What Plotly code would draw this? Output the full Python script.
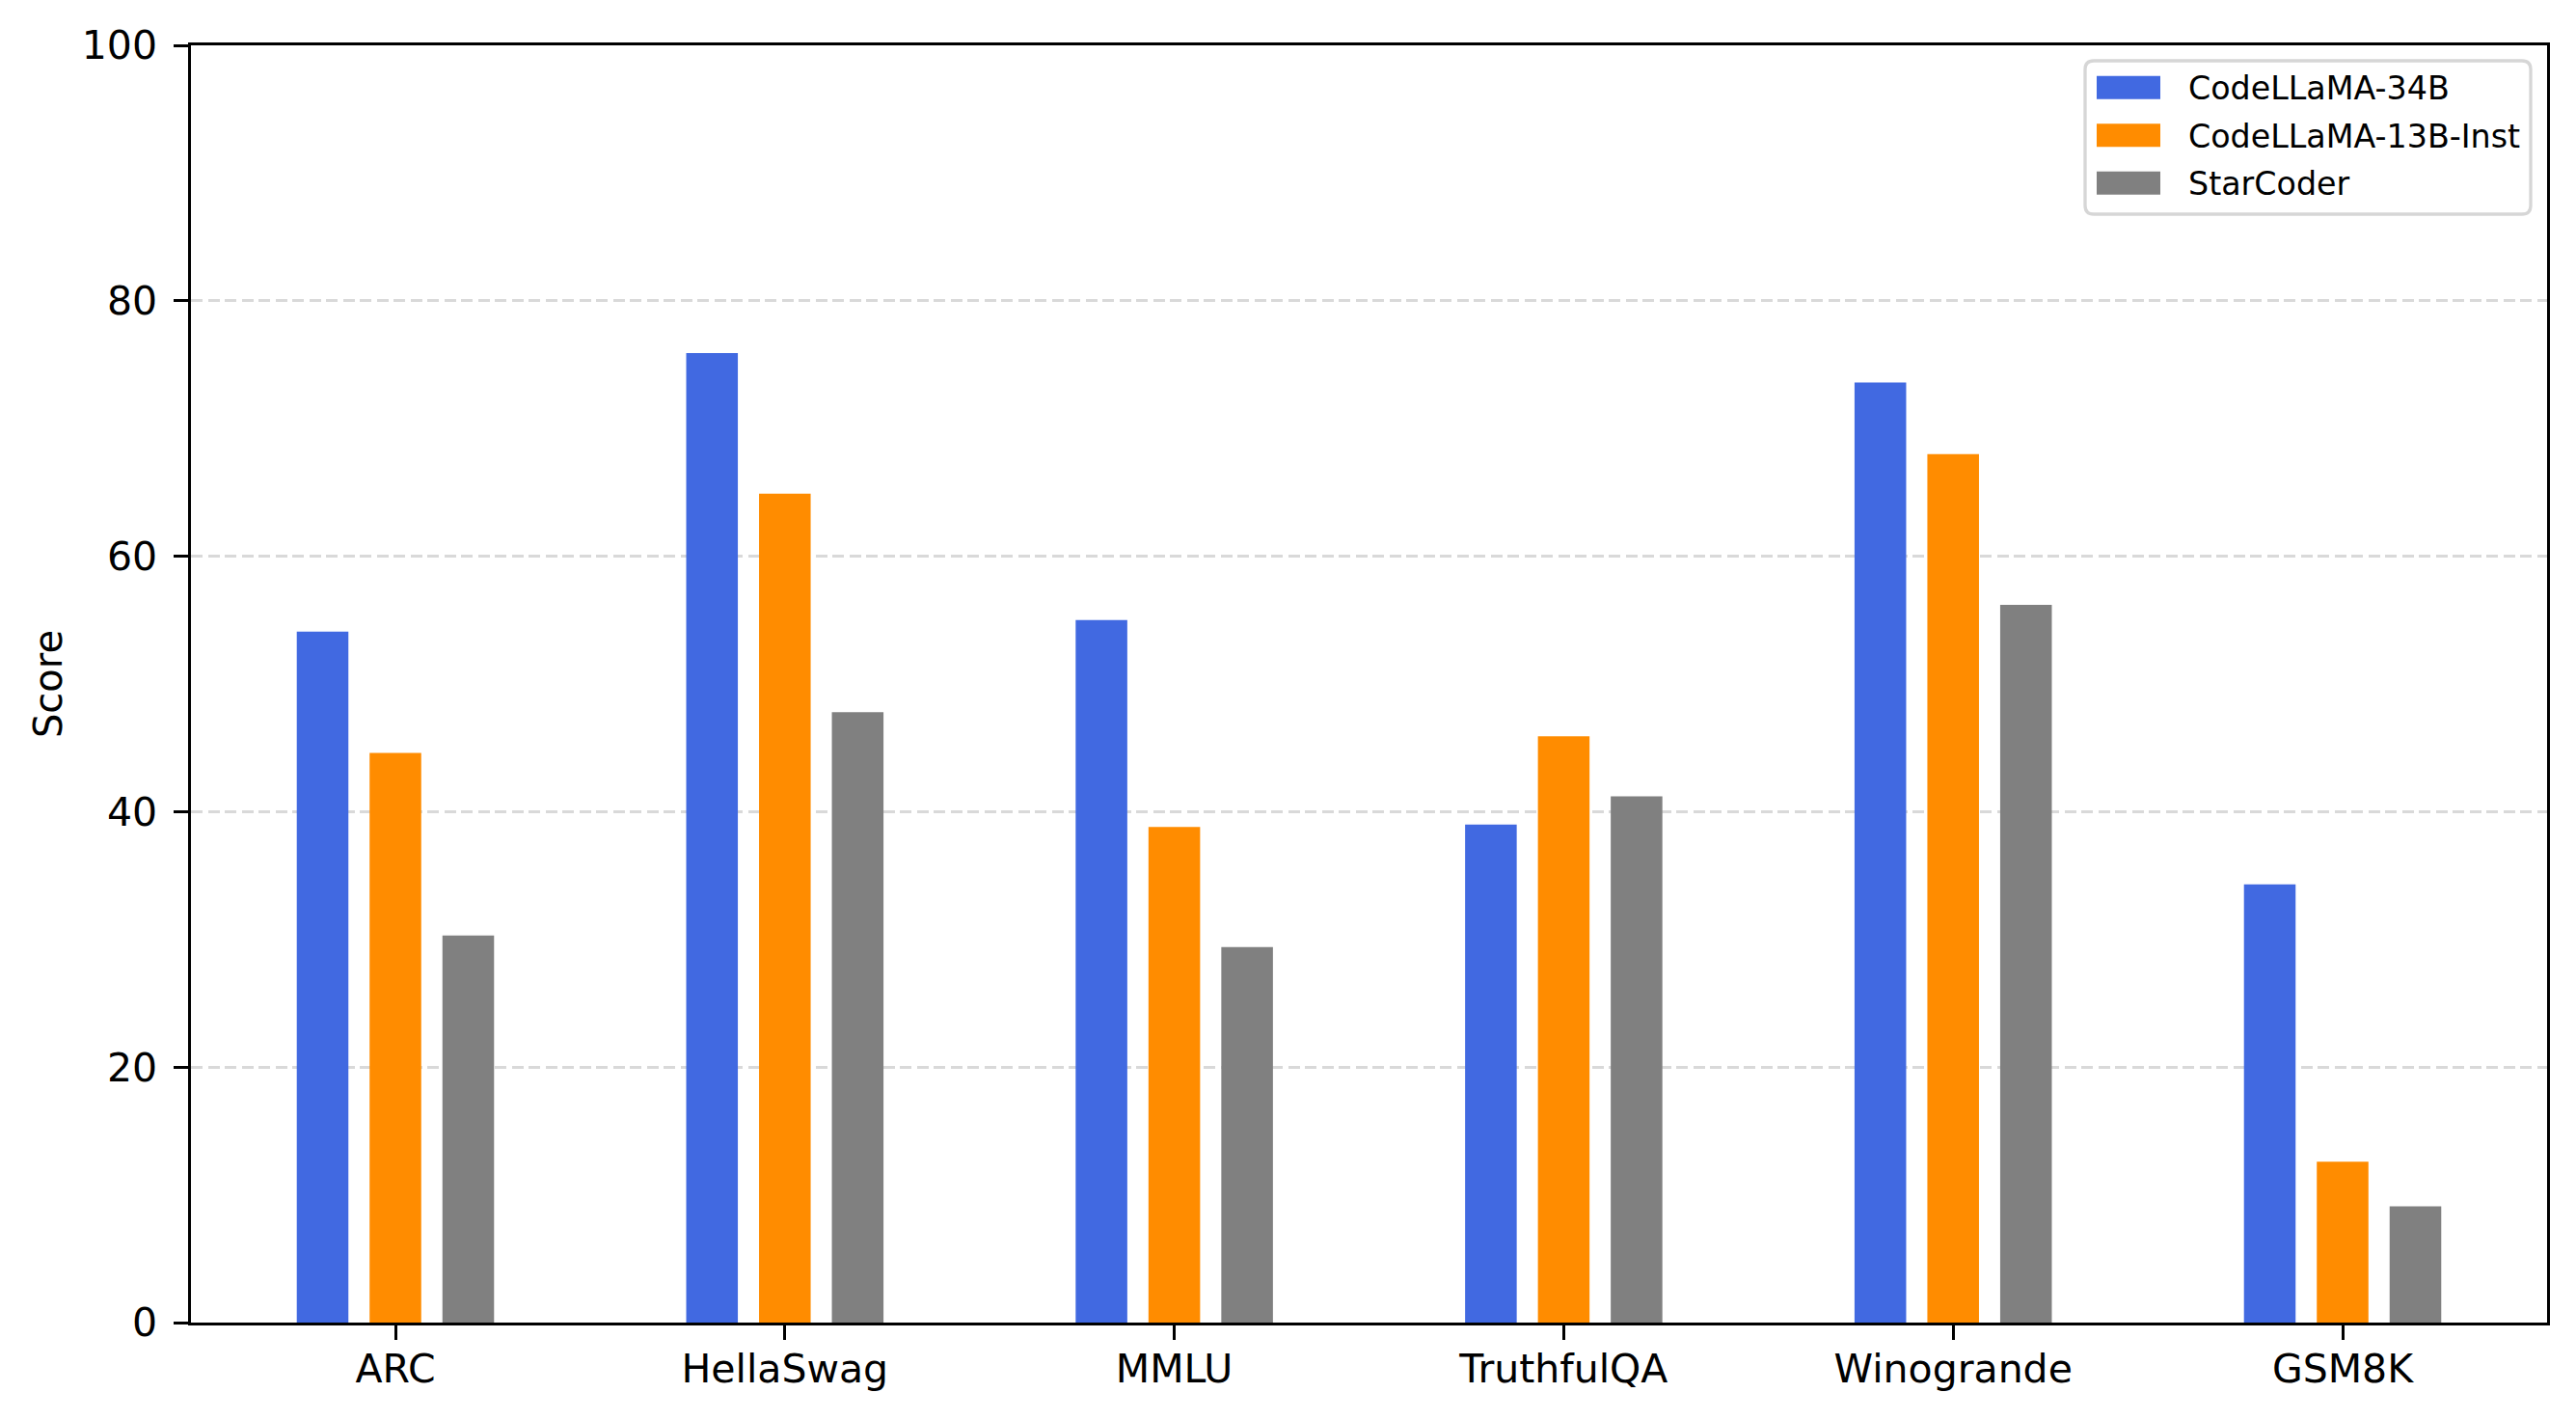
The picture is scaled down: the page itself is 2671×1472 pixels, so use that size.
import plotly.graph_objects as go

categories = ["ARC", "HellaSwag", "MMLU", "TruthfulQA", "Winogrande", "GSM8K"]
series_names = ["CodeLLaMA-34B", "CodeLLaMA-13B-Inst", "StarCoder"]
codellama_34b = [54.1, 75.9, 55.0, 39.0, 73.6, 34.3]
codellama_13b_inst = [44.6, 64.9, 38.8, 45.9, 68.0, 12.6]
starcoder = [30.3, 47.8, 29.4, 41.2, 56.2, 9.1]
y_ticks = [0, 20, 40, 60, 80, 100]

series_values = [codellama_34b, codellama_13b_inst, starcoder]
colors = ["#4169E1", "#FF8C00", "#808080"]

W, H = 2671, 1472
ML, MR, MT, MB = 198, 30, 47, 101
PW = W - ML - MR
PH = H - MT - MB
FONT = "DejaVu Sans"

fig = go.Figure()
for name, vals, col in zip(series_names, series_values, colors):
    fig.add_trace(go.Bar(x=categories, y=vals, name=name, marker=dict(color=col, line=dict(width=0)),
                         showlegend=False))

fig.update_layout(
    width=W, height=H,
    margin=dict(l=ML, r=MR, t=MT, b=MB, pad=0),
    paper_bgcolor="white", plot_bgcolor="white",
    barmode="group", bargap=0.439, bargroupgap=0.291,
    font=dict(family=FONT, size=41, color="black"),
)
fig.update_xaxes(
    type="category", range=[-0.525, 5.525],
    showline=True, linecolor="black", linewidth=3.3, mirror=True,
    ticks="outside", ticklen=14.6, tickwidth=3.3, tickcolor="black",
    showgrid=False, zeroline=False, ticklabelstandoff=-5,
    tickfont=dict(family=FONT, size=41, color="black"),
)
fig.update_yaxes(
    range=[0, 100], tickvals=y_ticks, ticktext=[str(v) for v in y_ticks],
    showline=True, linecolor="black", linewidth=3.3, mirror=True,
    ticks="outside", ticklen=14.6, tickwidth=3.3, tickcolor="black",
    showgrid=True, gridcolor="#d9d9d9", gridwidth=3.3, griddash="12px,5.5px",
    zeroline=False, ticklabelstandoff=9,
    tickfont=dict(family=FONT, size=41, color="black"),
    title=dict(text="Score", font=dict(family=FONT, size=40, color="black"), standoff=8),
)

# legend box (custom, matplotlib style)
def px_x(p):
    return (p - ML) / PW

def px_y(p):
    return (H - MB - p) / PH

bx0, bx1 = px_x(2162), px_x(2624)
by0, by1 = px_y(222), px_y(63)
rx, ry = 9 / PW, 9 / PH
path = (f"M {bx0+rx},{by1} L {bx1-rx},{by1} Q {bx1},{by1} {bx1},{by1-ry} "
        f"L {bx1},{by0+ry} Q {bx1},{by0} {bx1-rx},{by0} "
        f"L {bx0+rx},{by0} Q {bx0},{by0} {bx0},{by0+ry} "
        f"L {bx0},{by1-ry} Q {bx0},{by1} {bx0+rx},{by1} Z")
fig.add_shape(type="path", path=path, xref="paper", yref="paper",
              fillcolor="rgba(255,255,255,0.8)", line=dict(color="#d6d6d6", width=3.3), layer="above")

row_centers = [90.7, 140.2, 189.7]
for name, col, cy in zip(series_names, colors, row_centers):
    fig.add_shape(type="rect", xref="paper", yref="paper",
                  x0=px_x(2174), x1=px_x(2240), y0=px_y(cy + 12), y1=px_y(cy - 12),
                  fillcolor=col, line=dict(width=0), layer="above")
    fig.add_annotation(text=name, xref="paper", yref="paper", x=px_x(2267), y=px_y(cy + 1),
                       xanchor="left", yanchor="middle", showarrow=False,
                       font=dict(family=FONT, size=33.3, color="black"))

fig.write_html("out.html", config={"displayModeBar": False},
               post_script="document.body.style.margin='0';document.body.style.overflow='hidden';")
